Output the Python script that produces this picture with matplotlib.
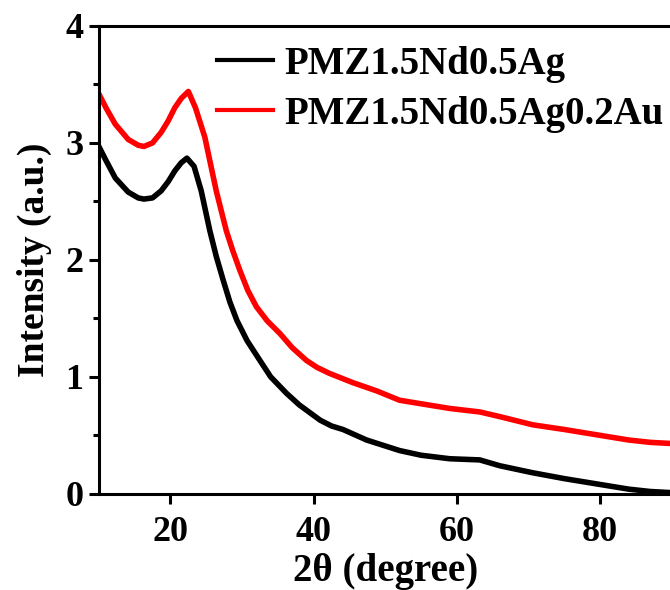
import matplotlib
matplotlib.use("Agg")
import matplotlib.pyplot as plt
from matplotlib.ticker import MultipleLocator

plt.rcParams['font.family'] = ['Liberation Serif', 'DejaVu Serif']
plt.rcParams['font.weight'] = 'bold'

labels = ["PMZ1.5Nd0.5Ag", "PMZ1.5Nd0.5Ag0.2Au"]
colors = ["black", "red"]

x_black = [10, 11, 12.3, 14.1, 15.5, 16.3, 17.5, 18.7, 19.7, 20.6, 21.5, 22.3, 23.3, 24.3, 25.5,
           26.4, 27.4, 28.3, 29.3, 30.7, 32.5, 34, 36.2, 38, 40.9, 42.5, 44.1, 47.4, 52, 55, 59,
           63.2, 66, 70.6, 75, 80, 84, 87, 90]
y_black = [2.97, 2.85, 2.70, 2.58, 2.53, 2.52, 2.53, 2.59, 2.67, 2.76, 2.83, 2.87, 2.80, 2.59, 2.25,
           2.03, 1.82, 1.64, 1.48, 1.31, 1.14, 1.00, 0.86, 0.76, 0.63, 0.58, 0.55, 0.46, 0.37, 0.33, 0.30,
           0.29, 0.24, 0.18, 0.13, 0.08, 0.04, 0.02, 0.01]

x_red = [10, 11, 12.3, 14.1, 15.5, 16.3, 17.5, 18.7, 19.7, 20.6, 21.5, 22.5, 23.5, 24.8, 26.4,
         27.8, 28.7, 29.7, 30.8, 32, 33.5, 35.3, 37, 39, 40.5, 42.2, 45.5, 48.8, 52, 55, 59,
         63.2, 66, 70.6, 75, 80, 84, 87, 90]
y_red = [3.42, 3.30, 3.16, 3.03, 2.98, 2.97, 3.00, 3.09, 3.19, 3.30, 3.38, 3.44, 3.30, 3.05, 2.59,
         2.25, 2.08, 1.91, 1.74, 1.60, 1.48, 1.37, 1.25, 1.14, 1.08, 1.03, 0.95, 0.88, 0.80, 0.77, 0.73,
         0.70, 0.66, 0.59, 0.55, 0.50, 0.46, 0.44, 0.43]

fig = plt.figure(figsize=(6.7, 5.9), dpi=100)
ax = fig.add_axes([0.1475, 0.163, 0.855, 0.793])

ax.plot(x_black, y_black, color=colors[0], lw=4, label=labels[0])
ax.plot(x_red, y_red, color=colors[1], lw=4, label=labels[1])

ax.set_xlim(10, 90)
ax.set_ylim(0, 4)
ax.xaxis.set_major_locator(MultipleLocator(20))
ax.yaxis.set_major_locator(MultipleLocator(1))
ax.yaxis.set_minor_locator(MultipleLocator(0.5))

for s in ax.spines.values():
    s.set_linewidth(2.2)
ax.tick_params(axis='both', which='major', direction='out', length=7, width=2.2,
               labelsize=26, pad=4)
ax.tick_params(axis='y', which='minor', direction='out', length=4, width=2.2)
ax.tick_params(axis='x', which='major', pad=9)
for t in ax.get_xticklabels() + ax.get_yticklabels():
    t.set_fontweight('bold')

ax.set_xlabel("2θ (degree)", fontsize=28, fontweight='bold', labelpad=3)
ax.set_ylabel("Intensity (a.u.)", fontsize=27, fontweight='bold', labelpad=10)

leg = ax.legend(loc='upper left', bbox_to_anchor=(0.206, 0.957), frameon=False,
                handlelength=1.45, handletextpad=0.28, labelspacing=0.32,
                borderpad=0, borderaxespad=0, prop={'weight': 'bold', 'size': 28})
for line in leg.get_lines():
    line.set_linewidth(3)

fig.savefig("out.png", dpi=100)
